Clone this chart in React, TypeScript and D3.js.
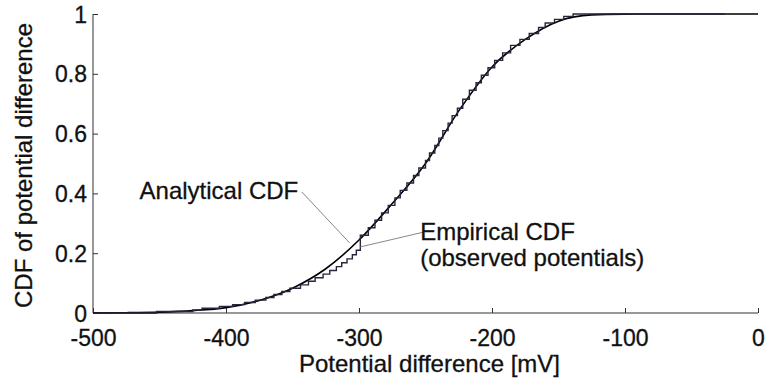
import { useEffect, useRef } from 'react';
import * as d3 from 'd3';

const width = 768;
const height = 383;
// plot box in pixels: left, right, top, bottom
const [pl, pr, pt, pb] = [93, 758, 14, 313];

const xTicks = [-500, -400, -300, -200, -100, 0];
const yTicks = [0, 0.2, 0.4, 0.6, 0.8, 1];

// analytical CDF
const analyticX = [-500, -475, -450, -425, -400, -375, -350, -325, -300, -275, -250, -225, -200, -175, -150, -125, -100, -75, -50, -25, 0];
const analyticY = [0.0003, 0.001, 0.003, 0.008, 0.018, 0.042, 0.083, 0.148, 0.244, 0.366, 0.5, 0.676, 0.823, 0.915, 0.976, 0.997, 0.9995, 1, 1, 1, 1];

// empirical CDF steps: position of each jump [mV] and level after it
const stepX = [-500, -452, -425, -418, -405, -395, -386, -378, -370, -364, -358, -352, -344, -338, -333, -327, -322, -317, -313, -309, -305, -302, -299, -293, -288, -283, -278, -273, -269, -264, -259, -255, -250, -247, -243, -240, -237, -233, -230, -226, -222, -217, -212, -208, -203, -198, -192, -186, -179, -172, -165, -160, -153, -146, -139, -25];
const stepY = [0, 0.005, 0.01, 0.016, 0.022, 0.028, 0.035, 0.043, 0.052, 0.062, 0.072, 0.083, 0.094, 0.106, 0.118, 0.13, 0.142, 0.155, 0.168, 0.181, 0.195, 0.21, 0.26, 0.285, 0.31, 0.335, 0.36, 0.385, 0.41, 0.435, 0.46, 0.485, 0.51, 0.535, 0.56, 0.585, 0.61, 0.635, 0.66, 0.685, 0.715, 0.745, 0.77, 0.795, 0.82, 0.845, 0.87, 0.895, 0.915, 0.935, 0.955, 0.97, 0.982, 0.992, 1, 1];

const font = '"Liberation Sans", Arial, Helvetica, sans-serif';

function App() {
    const ref = useRef<SVGSVGElement>(null);

    useEffect(() => {
        const svg = d3.select(ref.current);
        svg.selectAll('*').remove();

        const x = d3.scaleLinear().domain([-500, 0]).range([pl, pr]);
        const y = d3.scaleLinear().domain([0, 1]).range([pb, pt]);

        // axes (matlab-like: ticks inward, only left and bottom)
        const xAxis = d3
            .axisBottom(x)
            .tickValues(xTicks)
            .tickSize(-5)
            .tickFormat((d) => String(d));
        const yAxis = d3
            .axisLeft(y)
            .tickValues(yTicks)
            .tickSize(-5)
            .tickFormat((d) => String(d));

        svg.append('g')
            .attr('transform', `translate(0, ${pb})`)
            .call(xAxis)
            .call((g) => g.select('.domain').attr('stroke', '#333').attr('d', `M${pl},0H${pr}`))
            .call((g) => g.selectAll('.tick line').attr('stroke', '#333'))
            .call((g) =>
                g
                    .selectAll('.tick text')
                    .attr('fill', '#111')
                    .attr('stroke', '#111')
                    .attr('stroke-width', 0.3)
                    .attr('font-family', font)
                    .attr('font-size', 23)
                    .attr('dy', 0)
                    .attr('y', 33)
            );

        svg.append('g')
            .attr('transform', `translate(${pl}, 0)`)
            .call(yAxis)
            .call((g) => g.select('.domain').attr('stroke', '#333').attr('d', `M0,${pt}V${pb}`))
            .call((g) => g.selectAll('.tick line').attr('stroke', '#333'))
            .call((g) =>
                g
                    .selectAll('.tick text')
                    .attr('fill', '#111')
                    .attr('stroke', '#111')
                    .attr('stroke-width', 0.3)
                    .attr('font-family', font)
                    .attr('font-size', 23)
                    .attr('dy', 0)
                    .attr('y', 8)
                    .attr('x', -6)
            );

        // analytical curve
        const analytic = analyticX.map((v, i) => [v, analyticY[i]] as [number, number]);
        svg.append('path')
            .datum(analytic)
            .attr('fill', 'none')
            .attr('stroke', '#000')
            .attr('stroke-width', 1.6)
            .attr(
                'd',
                d3
                    .line()
                    .x((d) => x(d[0]))
                    .y((d) => y(d[1]))
                    .curve(d3.curveMonotoneX)
            );

        // empirical step curve
        const steps = stepX.map((v, i) => [v, stepY[i]] as [number, number]);
        svg.append('path')
            .datum(steps)
            .attr('fill', 'none')
            .attr('stroke', '#26263e')
            .attr('stroke-width', 1.4)
            .attr(
                'd',
                d3
                    .line()
                    .x((d) => x(d[0]))
                    .y((d) => y(d[1]))
                    .curve(d3.curveStepAfter)
            );

        // annotations
        svg.append('line')
            .attr('x1', x(-343))
            .attr('y1', y(0.405))
            .attr('x2', x(-307))
            .attr('y2', y(0.234))
            .attr('stroke', '#888')
            .attr('stroke-width', 1);
        svg.append('line')
            .attr('x1', x(-251))
            .attr('y1', y(0.271))
            .attr('x2', x(-299))
            .attr('y2', y(0.221))
            .attr('stroke', '#888')
            .attr('stroke-width', 1);

        const note = svg
            .append('g')
            .attr('font-family', font)
            .attr('font-size', 24)
            .attr('fill', '#111')
            .attr('stroke', '#111')
            .attr('stroke-width', 0.3);
        note.append('text').attr('x', x(-465)).attr('y', y(0.381)).text('Analytical CDF');
        note.append('text').attr('x', x(-254)).attr('y', y(0.245)).text('Empirical CDF');
        note.append('text').attr('x', x(-254)).attr('y', y(0.158)).text('(observed potentials)');

        // axis titles
        svg.append('text')
            .attr('x', (pl + pr) / 2 + 4)
            .attr('y', 372)
            .attr('text-anchor', 'middle')
            .attr('font-family', font)
            .attr('font-size', 24)
            .attr('fill', '#111')
            .attr('stroke', '#111')
            .attr('stroke-width', 0.3)
            .text('Potential difference [mV]');

        svg.append('text')
            .attr('transform', `translate(32, ${(pt + pb) / 2 + 2}) rotate(-90)`)
            .attr('text-anchor', 'middle')
            .attr('font-family', font)
            .attr('font-size', 24)
            .attr('fill', '#111')
            .attr('stroke', '#111')
            .attr('stroke-width', 0.3)
            .text('CDF of potential difference');
    }, []);

    return (
        <svg
            ref={ref}
            width={width}
            height={height}
            style={{ position: 'absolute', left: 0, top: 0, background: '#fff' }}
        />
    );
}

export default App;
